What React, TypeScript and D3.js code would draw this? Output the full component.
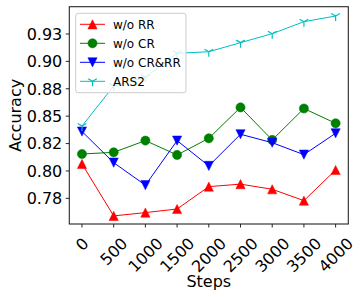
import React from "react";
import * as d3 from "d3";

const steps = [0, 500, 1000, 1500, 2000, 2500, 3000, 3500, 4000];
const woRR = [0.8064, 0.759, 0.762, 0.7653, 0.7857, 0.788, 0.7833, 0.7729, 0.8009];
const woCR = [0.8155, 0.817, 0.8277, 0.8146, 0.8298, 0.858, 0.8283, 0.857, 0.8435];
const woCRRR = [0.836, 0.8076, 0.787, 0.8277, 0.8046, 0.8335, 0.8258, 0.8149, 0.8344];
const ars2 = [0.841, 0.8776, 0.8855, 0.9074, 0.9088, 0.9171, 0.9253, 0.9362, 0.9414];
const yTicks = [0.775, 0.8, 0.825, 0.85, 0.875, 0.9, 0.925];
const yTickLabels = ["0.78", "0.80", "0.82", "0.85", "0.88", "0.90", "0.93"];
const seriesNames = ["w/o RR", "w/o CR", "w/o CR&RR", "ARS2"];

const W = 362, H = 297;
const L = 69.3, R = 348.3, T = 6.7, B = 224;
const FONT = "DejaVu Sans, sans-serif";

type Mk = "up" | "circle" | "down" | "tri";
const series: { name: string; vals: number[]; color: string; mk: Mk }[] = [
  { name: seriesNames[0], vals: woRR, color: "#ff0000", mk: "up" },
  { name: seriesNames[1], vals: woCR, color: "#008000", mk: "circle" },
  { name: seriesNames[2], vals: woCRRR, color: "#0000ff", mk: "down" },
  { name: seriesNames[3], vals: ars2, color: "#00bfbf", mk: "tri" },
];

function Marker({ x, y, mk, color }: { x: number; y: number; mk: Mk; color: string }) {
  const s = 4.6;
  if (mk === "up")
    return <path d={`M${x},${y - s}L${x - s},${y + s}L${x + s},${y + s}Z`} fill={color} stroke={color} strokeWidth={0.5} />;
  if (mk === "down")
    return <path d={`M${x},${y + s}L${x - s},${y - s}L${x + s},${y - s}Z`} fill={color} stroke={color} strokeWidth={0.5} />;
  if (mk === "circle") return <circle cx={x} cy={y} r={s} fill={color} stroke={color} strokeWidth={0.5} />;
  const r = 5;
  return (
    <path
      d={`M${x},${y}L${x},${y + r}M${x},${y}L${x + r * 0.866},${y - r * 0.5}M${x},${y}L${x - r * 0.866},${y - r * 0.5}`}
      stroke={color}
      strokeWidth={1.2}
      fill="none"
    />
  );
}

export default function App() {
  const x = d3.scaleLinear().domain([-200, 4200]).range([L, R]);
  const y = d3.scaleLinear().domain([0.7516, 0.9499]).range([B, T]);
  const line = d3
    .line<number>()
    .x((_, i) => x(steps[i]))
    .y((d) => y(d));

  const fs = 16;
  const lh = fs * 1.15;
  return (
    <svg width={W} height={H} style={{ position: "absolute", left: 0, top: 0, background: "#fff" }} fontFamily={FONT}>
      <rect x={0} y={0} width={W} height={H} fill="#fff" />
      {series.map((s) => (
        <g key={s.name}>
          <path d={line(s.vals) || ""} fill="none" stroke={s.color} strokeWidth={1} />
          {s.vals.map((v, i) => (
            <Marker key={i} x={x(steps[i])} y={y(v)} mk={s.mk} color={s.color} />
          ))}
        </g>
      ))}
      <rect x={L} y={T} width={R - L} height={B - T} fill="none" stroke="#262626" strokeWidth={1.1} />
      {yTicks.map((t, i) => (
        <g key={t}>
          <line x1={L - 3.5} x2={L} y1={y(t)} y2={y(t)} stroke="#262626" strokeWidth={1} />
          <text x={L - 7} y={y(t)} dy="0.36em" textAnchor="end" fontSize={fs} fill="#000">
            {yTickLabels[i]}
          </text>
        </g>
      ))}
      {steps.map((s) => {
        const label = String(s);
        const w = label.length * 0.636 * fs;
        const cy = 234 + (w + lh) / (2 * Math.SQRT2);
        const cx = x(s);
        return (
          <g key={s}>
            <line x1={cx} x2={cx} y1={B} y2={B + 3.5} stroke="#262626" strokeWidth={1} />
            <text
              x={cx}
              y={cy}
              dy="0.36em"
              textAnchor="middle"
              fontSize={fs}
              fill="#000"
              transform={`rotate(-45 ${cx} ${cy})`}
            >
              {label}
            </text>
          </g>
        );
      })}
      <text x={(L + R) / 2} y={287} textAnchor="middle" fontSize={fs} fill="#000">
        Steps
      </text>
      <text
        x={0}
        y={0}
        textAnchor="middle"
        fontSize={fs}
        fill="#000"
        transform={`translate(21 ${(T + B) / 2}) rotate(-90)`}
      >
        Accuracy
      </text>
      <g>
        <rect x={75.7} y={13.3} width={110.3} height={79.4} rx={2.5} fill="#fff" fillOpacity={0.8} stroke="#cccccc" strokeWidth={1} />
        {series.map((s, i) => {
          const cy = 24.3 + i * 19;
          return (
            <g key={s.name}>
              <line x1={80} x2={105} y1={cy} y2={cy} stroke={s.color} strokeWidth={1} />
              <Marker x={92.5} y={cy} mk={s.mk} color={s.color} />
              <text x={113} y={cy} dy="0.36em" fontSize={12} fill="#000">
                {s.name}
              </text>
            </g>
          );
        })}
      </g>
    </svg>
  );
}
